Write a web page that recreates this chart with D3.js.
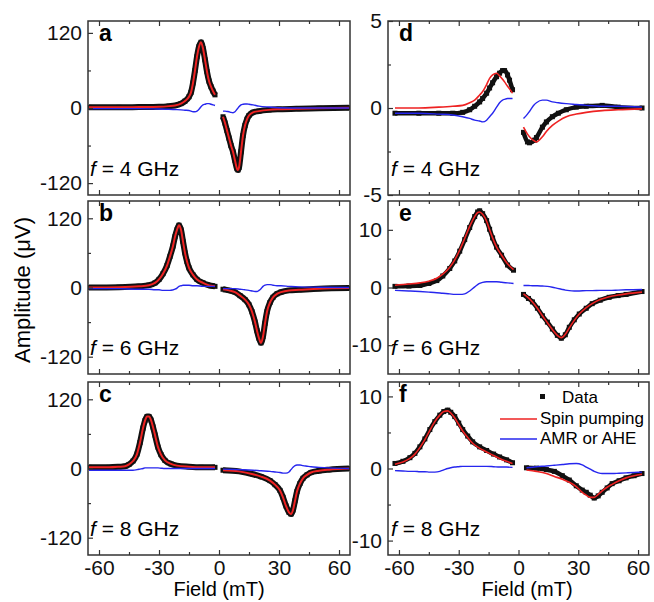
<!DOCTYPE html>
<html>
<head>
<meta charset="utf-8">
<script src="https://cdn.jsdelivr.net/npm/d3@7"></script>
<style>
  body { margin: 0; background: #fff; }
  svg { font-family: Arial, "Liberation Sans", sans-serif; }
</style>
</head>
<body>
<svg id="chart" width="654" height="602"></svg>
<script>
// field grids (mT) and readings per panel; negative and positive sweeps
var fieldA = [-65,-50,-40,-30,-25,-22,-19,-17,-15,-14,-13,-12,-11,-10,-9,-8,-7,-6,-5,-4,-3,-2,
  2,3,4,5,6,7,8,9,9.5,10,11,12,13,14,15,17,20,25,30,40,50,65];
var dataA = [1,1,1.5,2,3,4,7,11,18,25,40,60,82,98,105,95,77,58,43,34,27,21,
  -14,-24,-36,-48,-60,-70,-84,-97,-99,-95,-70,-44,-28,-18,-12,-7,-5,-3,-2,-1,-0.5,0.5];
var amrA = [-1,-1,-1,-1.5,-2,-2.5,-3,-3.5,-4,-5,-6,-6,-5,-2,2,5,6,7,7,6,5,4,
  -5,-5,-5.5,-6,-7,-7.5,-6,-2,0,2,5,6,6.5,6.5,6,5,3,1.5,0.5,0,0,0];

var fieldB = [-65,-50,-40,-35,-32,-30,-28,-26,-24.5,-23,-22,-21,-20,-19,-18,-17,-16,-15,-13,-11,-8,-6,-4,-2,
  2,5,8,10.5,13,15,16.5,18,19,20,21,22,23,24,25.5,27,29,31,35,40,50,65];
var dataB = [0,0.5,2,4,8,14,24,38,54,72,88,100,108,100,80,60,45,34,22,14,8,5,3,2,
  -3,-5,-8,-14,-21,-30,-42,-60,-75,-88,-96,-85,-62,-42,-26,-17,-11,-8,-5,-4,-2,-1];
var amrB = [-2,-2,-3,-3,-4,-4,-5,-5,-5,-4,-3,-1,2,3,4,4,4,4,3,3,2,2,2,2,
  -2,-2,-2,-3,-4,-5,-6,-7,-7,-5,-2,2,4,5,5,4,3,3,2,1,0.5,0];

var fieldC = [-65,-55,-50,-47,-45,-43,-41,-39.5,-38,-37,-36,-35,-34,-33,-32,-30.5,-29,-27,-24,-21,-15,-9,-2,
  2,10,17,21,25.5,28,30.5,32,33.5,35,36,37,38,39,40.5,42,44,46,50,55,65];
var dataC = [2,2,3,4,7,13,25,45,70,83,90,90,84,72,58,37,24,14,8,5,3,2,2,
  -3,-5,-10,-14,-21,-28,-38,-50,-65,-76,-79,-72,-56,-40,-26,-17,-11,-7,-4,-2,0];
var amrC = [-3,-3,-3,-3,-3,-3,-2,-1,0,1,1,1,1,1,1,1,0.5,0,0,0,0,0,0,
  -1,-2,-3,-4,-5,-6,-7,-8,-8,-6,-2,2,5,6,6,5,4,3,2,1,0];

var fieldD = [-62,-50,-40,-33,-28,-24.5,-22,-19.5,-18,-16,-14.5,-13,-11,-9.5,-8,-7,-5.5,-4.5,-3,
  2.5,4.5,5.5,8,9,12,14,17,20,24,29,34,42,50,62];
var dataD = [-0.3,-0.3,-0.3,-0.3,-0.25,-0.1,0.1,0.35,0.55,0.85,1.15,1.45,1.8,2.0,2.15,2.15,1.9,1.6,1.05,
  -1.4,-1.95,-2.0,-1.85,-1.7,-1.1,-0.8,-0.5,-0.3,-0.1,0.05,0.1,0.15,0.05,0];
var spinD = [0,0,0.05,0.1,0.15,0.3,0.45,0.75,0.95,1.35,1.7,1.9,2.0,1.85,1.65,1.5,1.25,1.1,0.85,
  -1.1,-1.5,-1.65,-1.9,-1.95,-1.65,-1.35,-1.0,-0.75,-0.5,-0.35,-0.25,-0.15,-0.1,-0.05];
var amrD = [-0.3,-0.3,-0.35,-0.4,-0.5,-0.6,-0.7,-0.75,-0.8,-0.7,-0.5,-0.3,0.05,0.3,0.45,0.5,0.55,0.55,0.55,
  -0.6,-0.35,-0.2,0.2,0.3,0.45,0.45,0.35,0.3,0.25,0.2,0.15,0.1,0.1,0.05];

var fieldE = [-62,-55,-49.5,-45,-41,-38,-34.5,-32,-29.5,-27,-24.5,-22,-20.5,-19.5,-18,-16,-14.5,-13,-11,-8.5,-5.5,-2.5,
  2.5,5,7,9.5,12,14.5,17,19.5,21.5,23.5,25.5,28,30.5,34,37,41,45.5,50,54,62];
var dataE = [0.2,0.25,0.35,0.7,1.2,2.0,3.3,4.6,6.3,8.3,10.4,12.3,13.1,13.3,12.8,11.6,10.1,8.6,7.0,5.6,3.9,3.0,
  -1.2,-1.9,-2.5,-3.6,-4.9,-6.0,-7.2,-8.3,-8.8,-8.2,-6.9,-5.6,-4.6,-3.6,-2.8,-2.2,-1.7,-1.4,-1.2,-0.7];
var spinE = [0.4,0.6,0.8,1.1,1.6,2.3,3.5,4.8,6.5,8.5,10.6,12.3,13.0,13.1,12.7,11.5,10.0,8.6,7.0,5.6,4.1,3.1,
  -1.1,-1.8,-2.5,-3.6,-4.9,-6.1,-7.3,-8.3,-8.7,-8.1,-7.0,-5.7,-4.6,-3.5,-2.8,-2.1,-1.6,-1.3,-1.1,-0.8];
var amrE = [-0.5,-0.6,-0.7,-0.8,-0.9,-1.0,-1.1,-1.2,-1.2,-1.1,-0.6,0.1,0.5,0.7,0.9,1.0,1.0,1.0,1.0,0.9,0.8,0.7,
  0.35,0.35,0.3,0.3,0.25,0.2,0.05,-0.15,-0.3,-0.45,-0.55,-0.6,-0.6,-0.55,-0.55,-0.5,-0.5,-0.45,-0.4,-0.35];

var fieldF = [-62,-58,-54.5,-52,-49.5,-47,-44.5,-42,-39.5,-37.5,-35.5,-34,-32,-30,-28,-25.5,-23,-19.5,-16,-12.5,-9.5,-6,-3,
  4,9,14,18,22,25.5,29,32,34,36,38,40,42,44.5,47,50.5,54,58,62];
var dataF = [0.7,1.0,1.5,2.1,3.0,4.1,5.4,6.5,7.4,7.9,8.1,7.8,7.2,6.3,5.4,4.5,3.7,3.0,2.5,2.0,1.6,1.2,0.8,
  0.1,0.05,-0.15,-0.4,-1.0,-1.6,-2.4,-3.0,-3.3,-3.7,-4.1,-3.8,-3.3,-2.7,-2.1,-1.7,-1.3,-1.0,-0.7];
var spinF = [0.6,0.9,1.4,2.0,2.9,4.0,5.3,6.5,7.4,7.9,8.0,7.7,7.0,6.1,5.2,4.3,3.5,2.8,2.3,1.8,1.4,1.0,0.7,
  -0.2,-0.4,-0.7,-1.1,-1.5,-1.9,-2.5,-3.3,-3.7,-4.0,-4.0,-3.6,-3.1,-2.6,-2.2,-1.7,-1.3,-1.0,-0.8];
var amrF = [-0.3,-0.35,-0.4,-0.4,-0.45,-0.45,-0.5,-0.5,-0.4,-0.2,0,0.1,0.2,0.25,0.3,0.3,0.3,0.3,0.3,0.25,0.2,0.2,0.15,
  0.1,0.25,0.35,0.45,0.55,0.65,0.7,0.5,0.2,-0.1,-0.4,-0.6,-0.7,-0.7,-0.7,-0.65,-0.6,-0.55,-0.5];

// in a-c the spin pumping fit lies on top of the data
var spinA = dataA, spinB = dataB, spinC = dataC;

var xTicks = [-60, -30, 0, 30, 60];
var xMinor = [-45, -15, 15, 45];
var freqLabels = ["4", "6", "8"];
var legendLabels = ["Data", "Spin pumping", "AMR or AHE"];

var red = "#ee2222";
var blue = "#2626ee";
var frame = "#333";

var colX = [[88, 350], [388, 649]];
var rowY = [[21, 195], [201, 374], [382, 555]];

var panels = [
  { key: "a", col: 0, row: 0, field: fieldA, data: dataA, spin: spinA, amr: amrA, dom: [-139, 139], ticks: [-120, 0, 120], minor: [-60, 60] },
  { key: "b", col: 0, row: 1, field: fieldB, data: dataB, spin: spinB, amr: amrB, dom: [-150, 150], ticks: [-120, 0, 120], minor: [-60, 60] },
  { key: "c", col: 0, row: 2, field: fieldC, data: dataC, spin: spinC, amr: amrC, dom: [-150, 150], ticks: [-120, 0, 120], minor: [-60, 60] },
  { key: "d", col: 1, row: 0, field: fieldD, data: dataD, spin: spinD, amr: amrD, dom: [-5, 5], ticks: [-5, 0, 5], minor: [-2.5, 2.5] },
  { key: "e", col: 1, row: 1, field: fieldE, data: dataE, spin: spinE, amr: amrE, dom: [-15, 15], ticks: [-10, 0, 10], minor: [-5, 5] },
  { key: "f", col: 1, row: 2, field: fieldF, data: dataF, spin: spinF, amr: amrF, dom: [-12, 12], ticks: [-10, 0, 10], minor: [-5, 5] }
];

var svg = d3.select("#chart");

function translate(x, y) {
  return "translate(" + x + "," + y + ")";
}

// plain hyphen minus like the original figure
function plain(d) {
  return String(d);
}

// split a series at the gap around zero field
function segments(field, values) {
  var neg = [], pos = [];
  for (var i = 0; i < field.length; i++) {
    if (field[i] < 0) neg.push([field[i], values[i]]);
    else pos.push([field[i], values[i]]);
  }
  return [neg, pos];
}

var drawPanel = function(p) {
  var x0 = colX[p.col][0], x1 = colX[p.col][1];
  var y0 = rowY[p.row][0], y1 = rowY[p.row][1];
  var w = x1 - x0, h = y1 - y0;
  var left = p.col === 0;

  var x = d3.scaleLinear().domain([-65.5, 65.5]).range([0, w]);
  var y = d3.scaleLinear().domain(p.dom).range([h, 0]);

  var g = svg.append("g").attr("transform", translate(x0, y0));

  g.append("clipPath").attr("id", "clip" + p.key)
    .append("rect").attr("width", w).attr("height", h);

  var plot = g.append("g").attr("clip-path", "url(#clip" + p.key + ")");

  var line = d3.line()
    .x(function(d) { return x(d[0]); })
    .y(function(d) { return y(d[1]); })
    .curve(d3.curveMonotoneX);

  var dataSeg = segments(p.field, p.data);
  var spinSeg = segments(p.field, p.spin);
  var amrSeg = segments(p.field, p.amr);

  plot.selectAll(".data-line").data(dataSeg).enter()
    .append("path").attr("class", "data-line")
    .attr("d", line)
    .attr("fill", "none").attr("stroke", "#111")
    .attr("stroke-width", left ? 6 : 4.5)
    .attr("stroke-linejoin", "round");

  var ms = 5;
  plot.selectAll(".pt").data(dataSeg[0].concat(dataSeg[1])).enter()
    .append("rect").attr("class", "pt")
    .attr("x", function(d) { return x(d[0]) - ms / 2; })
    .attr("y", function(d) { return y(d[1]) - ms / 2; })
    .attr("width", ms).attr("height", ms)
    .attr("fill", "#111");

  plot.selectAll(".spin").data(spinSeg).enter()
    .append("path").attr("class", "spin")
    .attr("d", line)
    .attr("fill", "none").attr("stroke", red)
    .attr("stroke-width", left ? 2 : 1.6);

  plot.selectAll(".amr").data(amrSeg).enter()
    .append("path").attr("class", "amr")
    .attr("d", line)
    .attr("fill", "none").attr("stroke", blue)
    .attr("stroke-width", 1.4);

  // axes, ticks pointing inward
  var bottom = g.append("g").attr("transform", translate(0, h))
    .call(d3.axisBottom(x).tickValues(xTicks).tickSizeInner(-5).tickSizeOuter(0).tickPadding(5)
      .tickFormat(p.row === 2 ? plain : ""));
  g.append("g").attr("transform", translate(0, h))
    .call(d3.axisBottom(x).tickValues(xMinor).tickSizeInner(-3).tickSizeOuter(0).tickFormat(""));
  g.append("g")
    .call(d3.axisTop(x).tickValues(xTicks).tickSizeInner(-5).tickSizeOuter(0).tickFormat(""));
  g.append("g")
    .call(d3.axisTop(x).tickValues(xMinor).tickSizeInner(-3).tickSizeOuter(0).tickFormat(""));
  var leftAxis = g.append("g")
    .call(d3.axisLeft(y).tickValues(p.ticks).tickSizeInner(-5).tickSizeOuter(0).tickPadding(6)
      .tickFormat(plain));
  g.append("g")
    .call(d3.axisLeft(y).tickValues(p.minor).tickSizeInner(-3).tickSizeOuter(0).tickFormat(""));

  g.selectAll(".domain").remove();
  g.selectAll(".tick line").attr("stroke", frame).attr("stroke-width", 1.2);
  bottom.selectAll("text").attr("font-size", 21).attr("fill", "#111").attr("font-family", "Arial, Liberation Sans");
  leftAxis.selectAll("text").attr("font-size", 21).attr("fill", "#111").attr("font-family", "Arial, Liberation Sans");

  g.append("rect")
    .attr("width", w).attr("height", h)
    .attr("fill", "none").attr("stroke", frame).attr("stroke-width", 1.5);

  g.append("text")
    .attr("x", 11).attr("y", 20)
    .attr("font-size", 23).attr("font-weight", "bold")
    .text(p.key);

  var fl = g.append("text")
    .attr("x", left ? 2 : 3).attr("y", h - 19)
    .attr("font-size", 21);
  fl.append("tspan").attr("font-style", "italic").text("f");
  fl.append("tspan").text(" = " + freqLabels[p.row] + " GHz");
};

panels.forEach(drawPanel);

// legend in panel f
var legend = svg.append("g").attr("transform", translate(500, 0));
legend.append("rect").attr("x", 40).attr("y", 394).attr("width", 5).attr("height", 5).attr("fill", "#111");
legend.append("text").attr("x", 62).attr("y", 403).attr("font-size", 17).text(legendLabels[0]);
legend.append("line").attr("x1", 0).attr("x2", 37).attr("y1", 419).attr("y2", 419)
  .attr("stroke", red).attr("stroke-width", 1.6);
legend.append("text").attr("x", 40).attr("y", 424).attr("font-size", 17).text(legendLabels[1]);
legend.append("line").attr("x1", 0).attr("x2", 37).attr("y1", 439).attr("y2", 439)
  .attr("stroke", blue).attr("stroke-width", 1.4);
legend.append("text").attr("x", 40).attr("y", 444).attr("font-size", 17).text(legendLabels[2]);

// axis titles
svg.append("text")
  .attr("x", 219).attr("y", 596)
  .attr("text-anchor", "middle").attr("font-size", 20)
  .text("Field (mT)");
svg.append("text")
  .attr("x", 527).attr("y", 596)
  .attr("text-anchor", "middle").attr("font-size", 20)
  .text("Field (mT)");
svg.append("text")
  .attr("transform", translate(30, 290) + " rotate(-90)")
  .attr("text-anchor", "middle").attr("font-size", 22)
  .text("Amplitude (\u03bcV)");
</script>
</body>
</html>
